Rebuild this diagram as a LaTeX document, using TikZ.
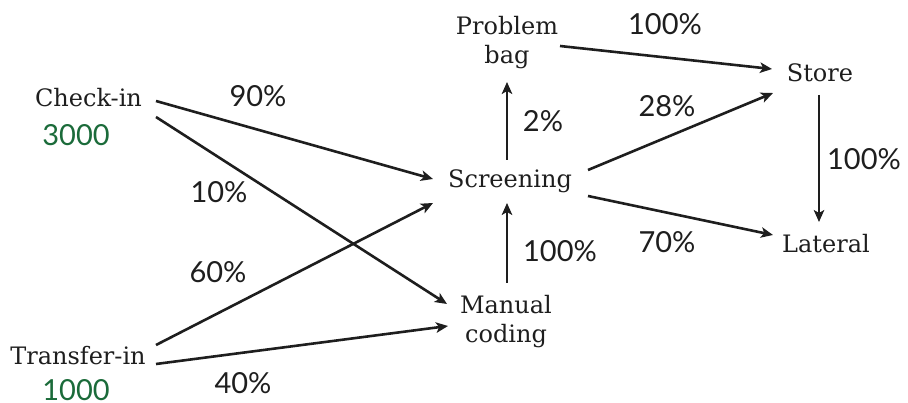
\documentclass[tikz,border=0pt]{standalone}
\usepackage{fontspec}
\setmainfont{DejaVu Serif}
\newfontfamily\pctfont{Lato}
\usetikzlibrary{arrows.meta}
\definecolor{numgreen}{HTML}{1B6B3A}
\definecolor{ink}{HTML}{1E1E1E}
\begin{document}
\begin{tikzpicture}[x=1pt,y=1pt,
  lab/.style={inner sep=0pt, anchor=base, align=center, text=ink,
    font=\fontsize{24}{29}\selectfont},
  pct/.style={inner sep=0pt, anchor=base, text=ink,
    font=\pctfont\fontsize{29}{34}\selectfont},
  cnt/.style={pct, text=numgreen},
  edge/.style={draw=ink, line width=2.6pt,
    -{Stealth[length=12pt,width=10.5pt,inset=3pt]}}]
\useasboundingbox (0,0) rectangle (908,-403);
% nodes
\node[lab] (ci) at (88.5,-107) {Check-in};
\node[lab] (ti) at (78,-365) {Transfer-in};
\node[lab] (scr) at (510,-188) {Screening};
\node[lab] (man) at (506,-343) {Manual\\coding};
\node[lab] (pb) at (507,-64) {Problem\\bag};
\node[lab] (st) at (820,-82) {Store};
\node[lab] (lat) at (826,-253) {Lateral};
% counts
\node[cnt] (n3000) at (76,-146) {3000};
\node[cnt] (n1000) at (76,-400) {1000};
% connectors
\draw[edge] ([shift={(67.5,6)}]ci.base) -- ([shift={(-77,9)}]scr.base);
\draw[edge] ([shift={(67.5,-10)}]ci.base) -- ([shift={(-59,39)}]man.base);
\draw[edge] ([shift={(78,20)}]ti.base) -- ([shift={(-77,-15)}]scr.base);
\draw[edge] ([shift={(78,1)}]ti.base) -- ([shift={(-58,17)}]man.base);
\draw[edge] ([shift={(1,60)}]man.base) -- ([shift={(-3,-15)}]scr.base);
\draw[edge] ([shift={(-3,28)}]scr.base) -- ([shift={(0,-18)}]pb.base);
\draw[edge] ([shift={(53,18)}]pb.base) -- ([shift={(-48,13)}]st.base);
\draw[edge] ([shift={(78,18)}]scr.base) -- ([shift={(-47,-11)}]st.base);
\draw[edge] ([shift={(78,-8)}]scr.base) -- ([shift={(-53,18)}]lat.base);
\draw[edge] ([shift={(-1,-13)}]st.base) -- ([shift={(-7,31)}]lat.base);
% percentages
\node[pct] (p90) at (258,-107) {90\%};
\node[pct] (p10) at (219,-203) {10\%};
\node[pct] (p60) at (218,-283) {60\%};
\node[pct] (p40) at (243,-394) {40\%};
\node[pct] (p2) at (543,-132) {2\%};
\node[pct] (p28) at (667,-117) {28\%};
\node[pct] (p100a) at (665,-35) {100\%};
\node[pct] (p100b) at (560,-262) {100\%};
\node[pct] (p70) at (667,-253) {70\%};
\node[pct] (p100c) at (864,-170) {100\%};
\end{tikzpicture}
\end{document}
